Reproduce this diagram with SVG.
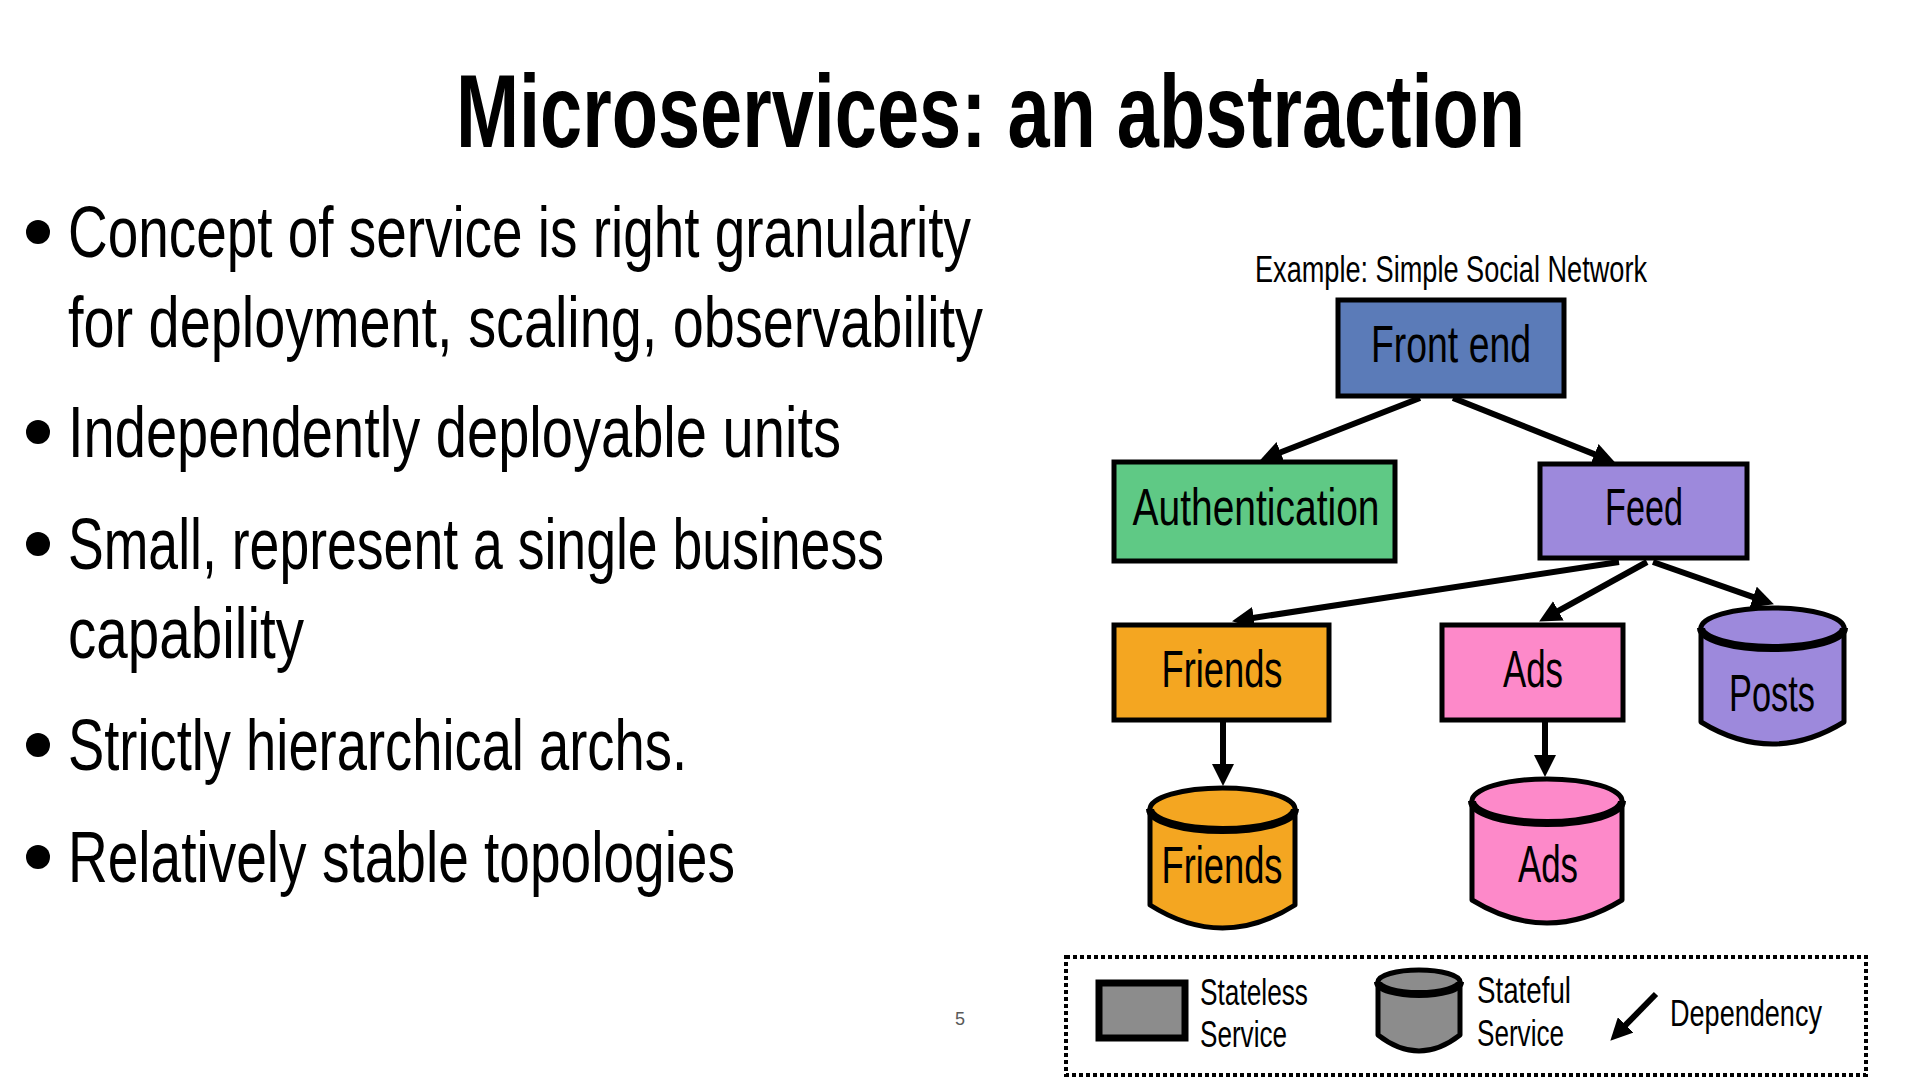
<svg xmlns="http://www.w3.org/2000/svg" width="1920" height="1080" viewBox="0 0 1920 1080">
<style>
text{font-family:"Liberation Sans Narrow","Liberation Sans",Arial,sans-serif;fill:#000}
.title{font-size:103px;font-weight:bold}
.bul{font-size:72px}
.lbl{font-size:52px;text-anchor:middle}
.small{font-size:36px}
.box{stroke:#000;stroke-width:5}
.cyl{stroke:#000;stroke-width:5;stroke-linejoin:round}
.rim{fill:none;stroke:#000;stroke-width:8}
.edge{stroke:#000;stroke-width:6;fill:none}
</style>
<defs>
<marker id="ah" markerUnits="userSpaceOnUse" markerWidth="22" markerHeight="22" refX="1" refY="11" orient="auto" viewBox="0 0 22 22">
<path d="M0,0 L22,11 L0,22 Z" fill="#000"/>
</marker>
</defs>
<rect width="1920" height="1080" fill="#fff"/>

<text class="title" x="456" y="147" textLength="1069" lengthAdjust="spacingAndGlyphs">Microservices: an abstraction</text>

<g id="bullets">
<circle cx="38" cy="232" r="12"/>
<text class="bul" x="68" y="257" textLength="903" lengthAdjust="spacingAndGlyphs">Concept of service is right granularity</text>
<text class="bul" x="68" y="347" textLength="915" lengthAdjust="spacingAndGlyphs">for deployment, scaling, observability</text>
<circle cx="38" cy="432" r="12"/>
<text class="bul" x="68" y="457" textLength="773" lengthAdjust="spacingAndGlyphs">Independently deployable units</text>
<circle cx="38" cy="544" r="12"/>
<text class="bul" x="68" y="569" textLength="816" lengthAdjust="spacingAndGlyphs">Small, represent a single business</text>
<text class="bul" x="68" y="658" textLength="236" lengthAdjust="spacingAndGlyphs">capability</text>
<circle cx="38" cy="745" r="12"/>
<text class="bul" x="68" y="770" textLength="619" lengthAdjust="spacingAndGlyphs">Strictly hierarchical archs.</text>
<circle cx="38" cy="857" r="12"/>
<text class="bul" x="68" y="882" textLength="667" lengthAdjust="spacingAndGlyphs">Relatively stable topologies</text>
</g>

<text x="955" y="1025" style="font-family:'Liberation Sans',Arial,sans-serif;font-size:18px;fill:#595959">5</text>

<text class="small" x="1255" y="282" textLength="392" lengthAdjust="spacingAndGlyphs">Example: Simple Social Network</text>

<g id="connectors">
<path class="edge" d="M1420,398 L1279.6,452.7" marker-end="url(#ah)"/>
<path class="edge" d="M1453,398 L1595.4,454.6" marker-end="url(#ah)"/>
<path class="edge" d="M1619,562 L1252.8,618" marker-end="url(#ah)"/>
<path class="edge" d="M1647,562 L1557.5,611.3" marker-end="url(#ah)"/>
<path class="edge" d="M1653,562 L1754.1,597.4" marker-end="url(#ah)"/>
<path class="edge" d="M1223,722 L1223,765" marker-end="url(#ah)"/>
<path class="edge" d="M1545,722 L1545,756" marker-end="url(#ah)"/>
</g>

<g id="frontend">
<rect class="box" x="1338" y="300" width="226" height="96" fill="#5b7bb8"/>
<text class="lbl" x="1451" y="362" textLength="160" lengthAdjust="spacingAndGlyphs">Front end</text>
</g>
<g id="authentication">
<rect class="box" x="1114" y="462" width="281" height="99" fill="#5fc985"/>
<text class="lbl" x="1256" y="525" textLength="247" lengthAdjust="spacingAndGlyphs">Authentication</text>
</g>
<g id="feed">
<rect class="box" x="1540" y="464" width="207" height="94" fill="#9d89dc"/>
<text class="lbl" x="1644" y="525" textLength="78" lengthAdjust="spacingAndGlyphs">Feed</text>
</g>
<g id="friends">
<rect class="box" x="1114" y="625" width="215" height="95" fill="#f4a621"/>
<text class="lbl" x="1222" y="687" textLength="121" lengthAdjust="spacingAndGlyphs">Friends</text>
</g>
<g id="ads">
<rect class="box" x="1442" y="625" width="181" height="95" fill="#fd89c9"/>
<text class="lbl" x="1533" y="687" textLength="60" lengthAdjust="spacingAndGlyphs">Ads</text>
</g>

<g id="posts-db">
<path class="cyl" fill="#9d89dc" d="M1701,628 L1701,722 Q1772.5,766 1844,722 L1844,628 Z"/>
<ellipse class="cyl" cx="1772.5" cy="628" rx="71.5" ry="20" fill="#9d89dc"/>
<path class="rim" d="M1701,628 A71.5,20 0 0 0 1844,628"/>
<text class="lbl" x="1772" y="711" textLength="86" lengthAdjust="spacingAndGlyphs">Posts</text>
</g>
<g id="friends-db">
<path class="cyl" fill="#f4a621" d="M1150,809 L1150,905 Q1222.5,951 1295,905 L1295,809 Z"/>
<ellipse class="cyl" cx="1222.5" cy="809" rx="72.5" ry="21" fill="#f4a621"/>
<path class="rim" d="M1150,809 A72.5,21 0 0 0 1295,809"/>
<text class="lbl" x="1222" y="883" textLength="121" lengthAdjust="spacingAndGlyphs">Friends</text>
</g>
<g id="ads-db">
<path class="cyl" fill="#fd89c9" d="M1472,801 L1472,900 Q1547,946 1622,900 L1622,801 Z"/>
<ellipse class="cyl" cx="1547" cy="801" rx="75" ry="22" fill="#fd89c9"/>
<path class="rim" d="M1472,801 A75,22 0 0 0 1622,801"/>
<text class="lbl" x="1548" y="882" textLength="60" lengthAdjust="spacingAndGlyphs">Ads</text>
</g>

<g id="legend">
<rect x="1066" y="957" width="800" height="118" fill="none" stroke="#000" stroke-width="4" stroke-dasharray="4 3"/>
<rect x="1099" y="983" width="86" height="55" fill="#8c8c8c" stroke="#000" stroke-width="7"/>
<text class="small" x="1200" y="1005" textLength="108" lengthAdjust="spacingAndGlyphs">Stateless</text>
<text class="small" x="1200" y="1047" textLength="87" lengthAdjust="spacingAndGlyphs">Service</text>
<path class="cyl" fill="#8c8c8c" d="M1378,982 L1378,1035 Q1419,1067 1460,1035 L1460,982 Z"/>
<ellipse class="cyl" cx="1419" cy="982" rx="41" ry="12" fill="#8c8c8c"/>
<path class="rim" d="M1378,982 A41,12 0 0 0 1460,982"/>
<text class="small" x="1477" y="1003" textLength="94" lengthAdjust="spacingAndGlyphs">Stateful</text>
<text class="small" x="1477" y="1046" textLength="87" lengthAdjust="spacingAndGlyphs">Service</text>
<path class="edge" d="M1656,994 L1625,1025.7" marker-end="url(#ah)"/>
<text class="small" x="1670" y="1026" textLength="152" lengthAdjust="spacingAndGlyphs">Dependency</text>
</g>
</svg>
